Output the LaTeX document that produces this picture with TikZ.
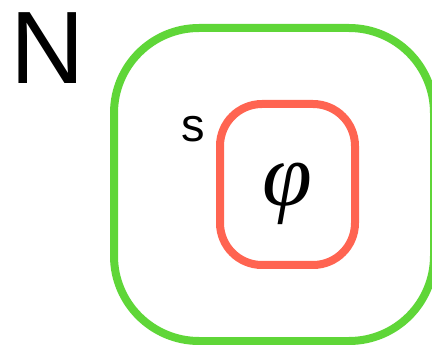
\documentclass[tikz,border=0pt]{standalone}
\usepackage{fontspec}
\setsansfont{Liberation Sans}
\newfontfamily\phifont{Liberation Serif}
\definecolor{boxgreen}{HTML}{5FD638}
\definecolor{boxred}{HTML}{FF6451}
\tikzset{
  framebox/.style={line width=8pt},
  biglabel/.style={inner sep=0pt, font=\sffamily\fontsize{103}{103}\selectfont, anchor=base west},
  smalllabel/.style={inner sep=0pt, font=\sffamily\fontsize{47}{47}\selectfont, anchor=base west},
  mathlabel/.style={inner sep=0pt, font=\phifont\itshape\fontsize{90}{90}\selectfont}
}
\begin{document}
\begin{tikzpicture}[x=1pt,y=-1pt]
\useasboundingbox (0,0) rectangle (432,345);
\draw[framebox, boxgreen, rounded corners=85pt] (114,28) rectangle (434,341);
\draw[framebox, boxred, rounded corners=42pt] (220,104) rectangle (355,265);
\node[biglabel] (N) at (10,84) {N};
\node[smalllabel] (s) at (181.5,141.5) {s};
\node[mathlabel] (phi) at (287,194) {φ};
\end{tikzpicture}
\end{document}
